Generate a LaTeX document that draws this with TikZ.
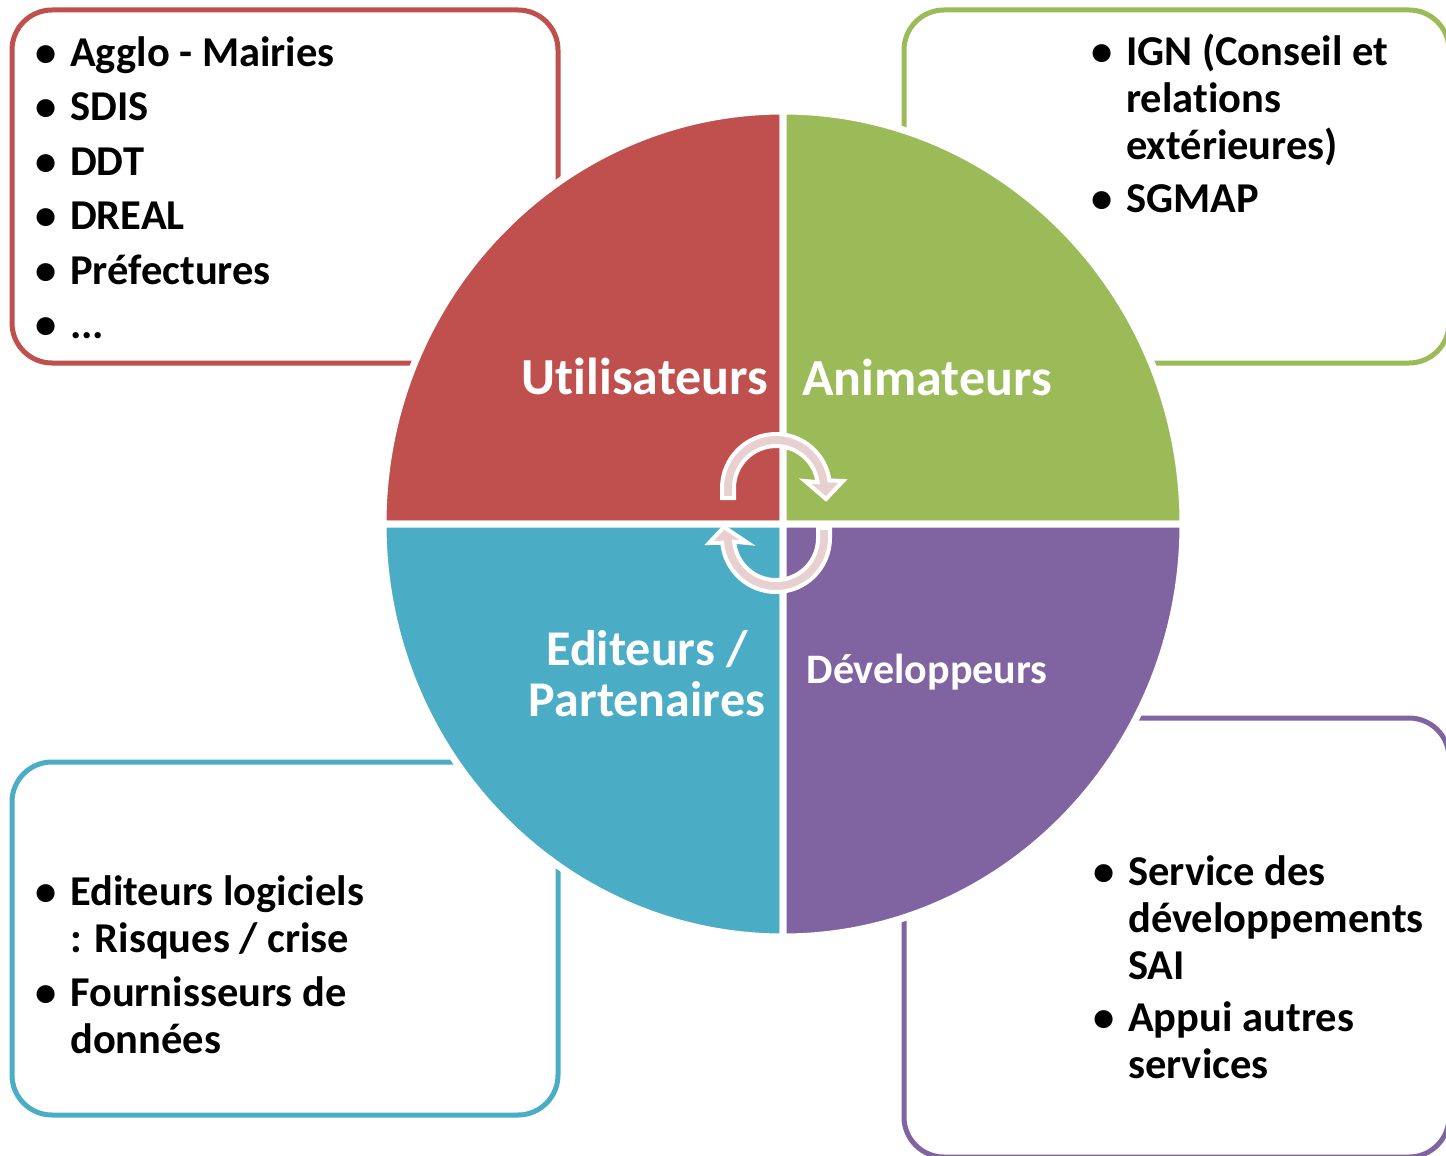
\documentclass[tikz,border=0pt]{standalone}
\usepackage{fontspec}
\setmainfont[Ligatures=NoCommon]{Carlito}
\usepackage{tikz}

\newcommand{\puce}{\makebox[35pt][l]{•}}
\newcommand{\suite}{\hspace*{35pt}}

\begin{document}
\begin{tikzpicture}[x=1pt,y=1pt]

	\definecolor{rougeU}{RGB}{192,80,77}
	\definecolor{vertA}{RGB}{155,187,89}
	\definecolor{bleuE}{RGB}{75,172,198}
	\definecolor{violetD}{RGB}{128,100,162}
	\definecolor{roseF}{RGB}{232,208,209}

	\useasboundingbox (0,0) rectangle (1446,-1156);

	\tikzstyle{cadre} = [draw,rounded corners=40,line width=5,inner sep=0,minimum width=546,minimum height=353]
	\tikzstyle{liste} = [anchor=north west,inner sep=0,align=left,font=\bfseries\fontsize{42.5}{47}\selectfont]
	\tikzstyle{titre} = [text=white,inner sep=0,align=center,font=\bfseries\fontsize{52}{50}\selectfont]
	\tikzstyle{fleche} = [fill=roseF,draw=white,line width=4,line join=miter]

	% cadres
	\node[cadre,draw=rougeU] (cu) at (285,-186.5) {};
	\node[cadre,draw=vertA,minimum width=545] (ca) at (1176.5,-186.5) {};
	\node[cadre,draw=bleuE] (ce) at (285,-938.5) {};
	\node[cadre,draw=violetD,minimum width=545,minimum height=439] (cd) at (1176.5,-937.5) {};

	% cercle
	\coordinate (centre) at (783,-524);
	\foreach \a/\c in {90/rougeU,0/vertA,180/bleuE,270/violetD}
		\filldraw[fill=\c,draw=white,line width=7] (centre) -- ++({400*cos(\a)},{413*sin(\a)})
			arc[start angle=\a,end angle=\a+90,x radius=400,y radius=413] -- cycle;

	% fleches
	\filldraw[fleche] (722,-498) -- (722,-488) arc[start angle=180,end angle=8,radius=54]
		-- (843,-481) -- (826,-499) -- (805,-481) -- (817.6,-482.2)
		arc[start angle=8,end angle=180,radius=42] -- (734,-498) -- cycle;
	\filldraw[fleche] (830,-528) -- (830,-538) arc[start angle=0,end angle=-175,radius=54]
		-- (709,-543) -- (724,-527) -- (748,-543) -- (734.2,-541.7)
		arc[start angle=-175,end angle=0,radius=42] -- (818,-528) -- cycle;

	\node[titre,anchor=base] (tu) at (645,-394) {Utilisateurs};
	\node[titre,anchor=base] (ta) at (927,-395) {Animateurs};
	\node[titre,anchor=north,font=\bfseries\fontsize{50}{50}\selectfont] (te) at (647,-630) {\strut Editeurs /\\Partenaires};
	\node[titre,anchor=base,font=\bfseries\fontsize{42}{44}\selectfont] (td) at (927,-683) {Développeurs};

	\node[liste] (lu) at (35,-33) {\strut\puce Agglo - Mairies\\[7.5pt]\puce SDIS\\[7.5pt]\puce DDT\\[7.5pt]\puce DREAL\\[7.5pt]\puce Préfectures\\[7.5pt]\puce ...};
	\node[liste] (la) at (1091,-32) {\strut\puce IGN (Conseil et\\\suite relations\\\suite extérieures)\\[6pt]\puce SGMAP};
	\node[liste] (le) at (35,-872) {\strut\puce Editeurs logiciels\\\suite : Risques / crise\\[7pt]\puce Fournisseurs de\\\suite données};
	\node[liste] (ld) at (1093,-852) {\strut\puce Service des\\\suite développements\\\suite SAI\\[5pt]\puce Appui autres\\\suite services};
\end{tikzpicture}
\end{document}
